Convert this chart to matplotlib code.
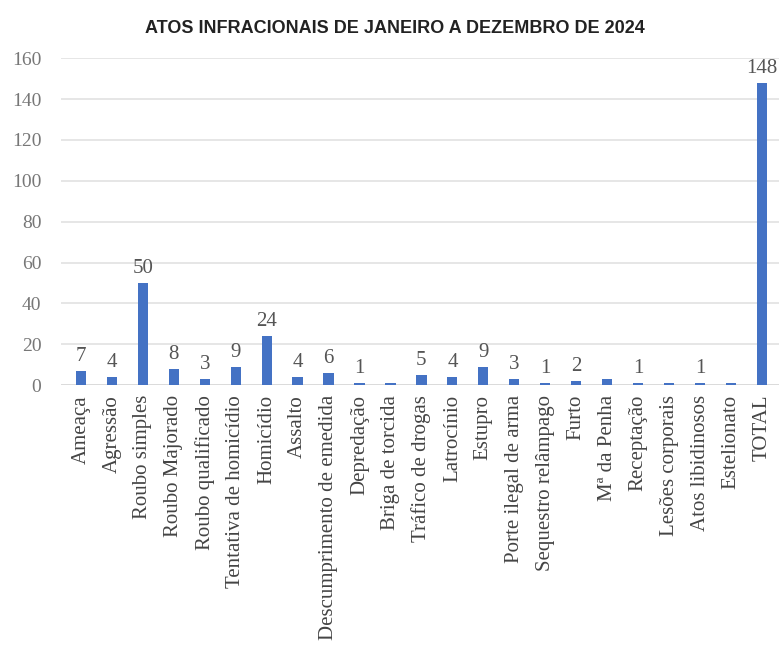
import matplotlib
matplotlib.use("Agg")
import matplotlib.pyplot as plt

categories = ["Ameaça", "Agressão", "Roubo simples", "Roubo Majorado", "Roubo qualificado",
              "Tentativa de homicídio", "Homicídio", "Assalto", "Descumprimento de emedida",
              "Depredação", "Briga de torcida", "Tráfico de drogas", "Latrocínio", "Estupro",
              "Porte ilegal de arma", "Sequestro relâmpago", "Furto", "Mª da Penha",
              "Receptação", "Lesões corporais", "Atos libidinosos", "Estelionato", "TOTAL"]
values = [7, 4, 50, 8, 3, 9, 24, 4, 6, 1, 1, 5, 4, 9, 3, 1, 2, 3, 1, 1, 1, 1, 148]
labels = ["7", "4", "50", "8", "3", "9", "24", "4", "6", "1", "", "5", "4", "9", "3",
          "1", "2", "", "1", "", "1", "", "148"]
yticks = [0, 20, 40, 60, 80, 100, 120, 140, 160]

fig = plt.figure(figsize=(7.79, 6.53), dpi=100)
ax = fig.add_axes([0.078, 0.41, 0.922, 0.501])
x = list(range(len(categories)))
ax.bar(x, values, width=0.33, color="#4472C4", zorder=3)
ax.set_ylim(0, 160)
ax.set_xlim(-0.65, len(categories) - 0.45)
ax.set_yticks(yticks)
ax.set_yticklabels([str(v) for v in yticks], family="Liberation Serif", fontsize=14, color="#777777")
ax.set_xticks(x)
ax.set_xticklabels(categories, rotation=90, family="Liberation Serif", fontsize=15, color="#444444")
ax.tick_params(axis="x", length=0, pad=7)
ax.tick_params(axis="y", length=0, pad=14)
ax.grid(axis="y", color="#e2e2e2", linewidth=1.2, zorder=0)
for s in ax.spines.values():
    s.set_visible(False)
ax.axhline(0, color="#d9d9d9", linewidth=1.2, zorder=2)
for xi, v, lab in zip(x, values, labels):
    if lab:
        ax.text(xi, v + 2.5, lab, ha="center", va="bottom", family="Liberation Serif",
                fontsize=15, color="#555555")
fig.text(0.507, 0.957, "ATOS INFRACIONAIS DE JANEIRO A DEZEMBRO DE 2024", ha="center", va="center",
         family="Liberation Sans", fontweight="bold", fontsize=13, color="#222222")
fig.savefig("out.png", dpi=100)
